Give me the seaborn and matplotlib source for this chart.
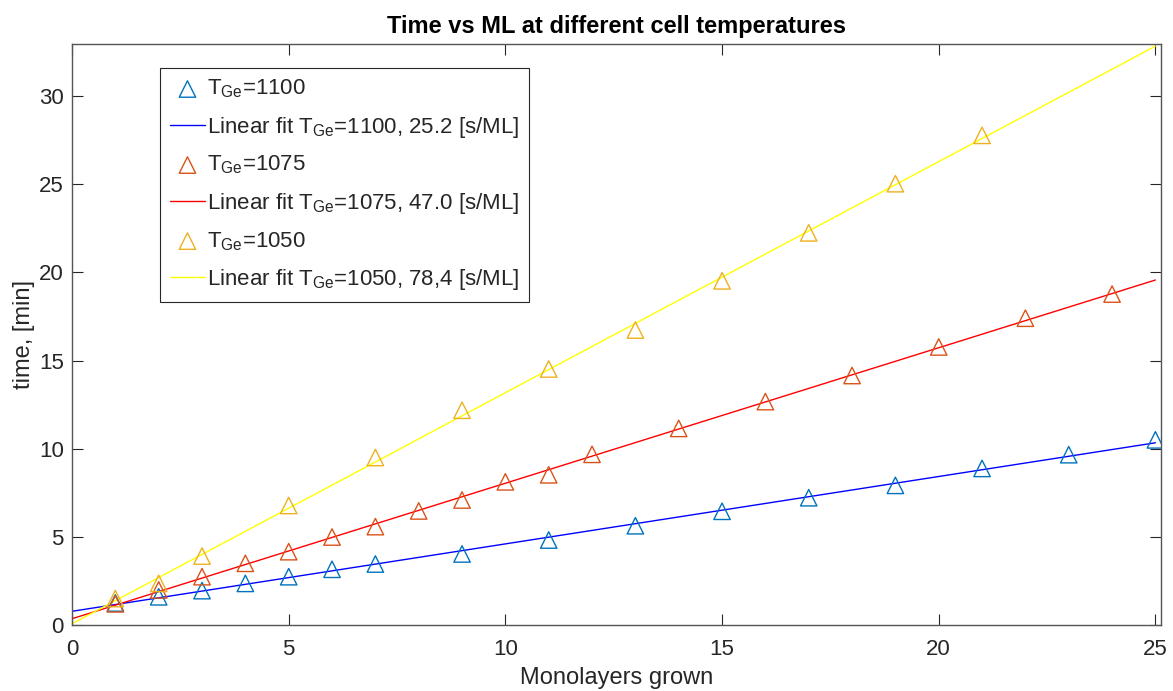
"""Time vs monolayers grown at three Ge cell temperatures, with linear fits."""

import matplotlib

matplotlib.use("Agg")
import matplotlib.pyplot as plt
import numpy as np
import pandas as pd
import seaborn as sns

# T_Ge = 1100
ml_1100 = [1, 2, 3, 4, 5, 6, 7, 9, 11, 13, 15, 17, 19, 21, 23, 25]
time_1100 = [1.25, 1.6, 1.95, 2.36, 2.74, 3.16, 3.46, 4.03, 4.82, 5.63,
             6.45, 7.22, 7.92, 8.88, 9.66, 10.5]

# T_Ge = 1075
ml_1075 = [1, 2, 3, 4, 5, 6, 7, 8, 9, 10, 11, 12, 14, 16, 18, 20, 22, 24]
time_1075 = [1.2, 1.99, 2.74, 3.5, 4.16, 4.99, 5.58, 6.47, 7.09, 8.12,
             8.52, 9.68, 11.15, 12.67, 14.15, 15.77, 17.4, 18.77]

# T_Ge = 1050
ml_1050 = [1, 3, 2, 5, 7, 9, 11, 13, 15, 17, 19, 21]
time_1050 = [1.5, 3.91, 2.36, 6.78, 9.5, 12.18, 14.52, 16.73, 19.52,
             22.24, 25.03, 27.77]

temps = ["1100", "1075", "1050"]
rates = ["25.2", "47.0", "78,4"]  # s/ML, as printed in the legend

marker_colors = ["#0072BD", "#D95319", "#EDB120"]
fit_colors = ["#0000FF", "#FF0000", "#FFFF00"]

sns.set_theme(style="white", rc={
    "xtick.direction": "in", "ytick.direction": "in",
    "xtick.top": True, "ytick.right": True,
    "xtick.bottom": True, "ytick.left": True,
})
plt.rcParams["font.family"] = ["Liberation Sans", "DejaVu Sans"]

fig = plt.figure(figsize=(11.73, 6.91), dpi=100)
ax = fig.add_axes([0.0614, 0.0955, 0.9284, 0.8408])

series = [(ml_1100, time_1100), (ml_1075, time_1075), (ml_1050, time_1050)]
x_max = max(max(s[0]) for s in series)
for (ml, t), temp, rate, mc, fc in zip(series, temps, rates, marker_colors, fit_colors):
    df = pd.DataFrame({"ml": ml, "time": t})
    sns.scatterplot(data=df, x="ml", y="time", marker="^", s=140,
                    facecolor="none", edgecolor=mc, linewidth=1.0,
                    label=r"T$_\mathregular{Ge}$=" + temp, ax=ax, zorder=3)
    slope, icpt = np.polyfit(df["ml"], df["time"], 1)
    fit = pd.DataFrame({"ml": [0, x_max]})
    fit["time"] = icpt + slope * fit["ml"]
    sns.lineplot(data=fit, x="ml", y="time", color=fc, linewidth=1.0,
                 label=r"Linear fit T$_\mathregular{Ge}$=" + temp + ", " + rate + " [s/ML]",
                 ax=ax, zorder=2)

ax.set_xlim(0, 25.13)
ax.set_ylim(0, 32.95)
ax.set_xticks([0, 5, 10, 15, 20, 25])
ax.set_yticks([0, 5, 10, 15, 20, 25, 30])
ax.tick_params(labelsize=16, length=8, width=0.8, color="#262626",
               labelcolor="#262626")
ax.tick_params(axis="x", pad=10)
ax.tick_params(axis="y", pad=6)
for sp in ax.spines.values():
    sp.set_color("#555555")
    sp.set_linewidth(1.0)

ax.set_xlabel("Monolayers grown", fontsize=17, color="#262626", labelpad=5)
ax.set_ylabel("time, [min]", fontsize=17, color="#262626", labelpad=3)
ax.set_title("Time vs ML at different cell temperatures", fontsize=17,
             fontweight="bold", color="black", pad=8)

leg = ax.legend(loc="upper left", bbox_to_anchor=(0.081, 0.959), borderaxespad=0,
                fontsize=16, fancybox=False, framealpha=1, edgecolor="#262626",
                handlelength=1.55, handletextpad=0.1, labelspacing=0.64,
                borderpad=0.45)
leg.get_frame().set_linewidth(0.8)

fig.savefig("out.png", dpi=100)
